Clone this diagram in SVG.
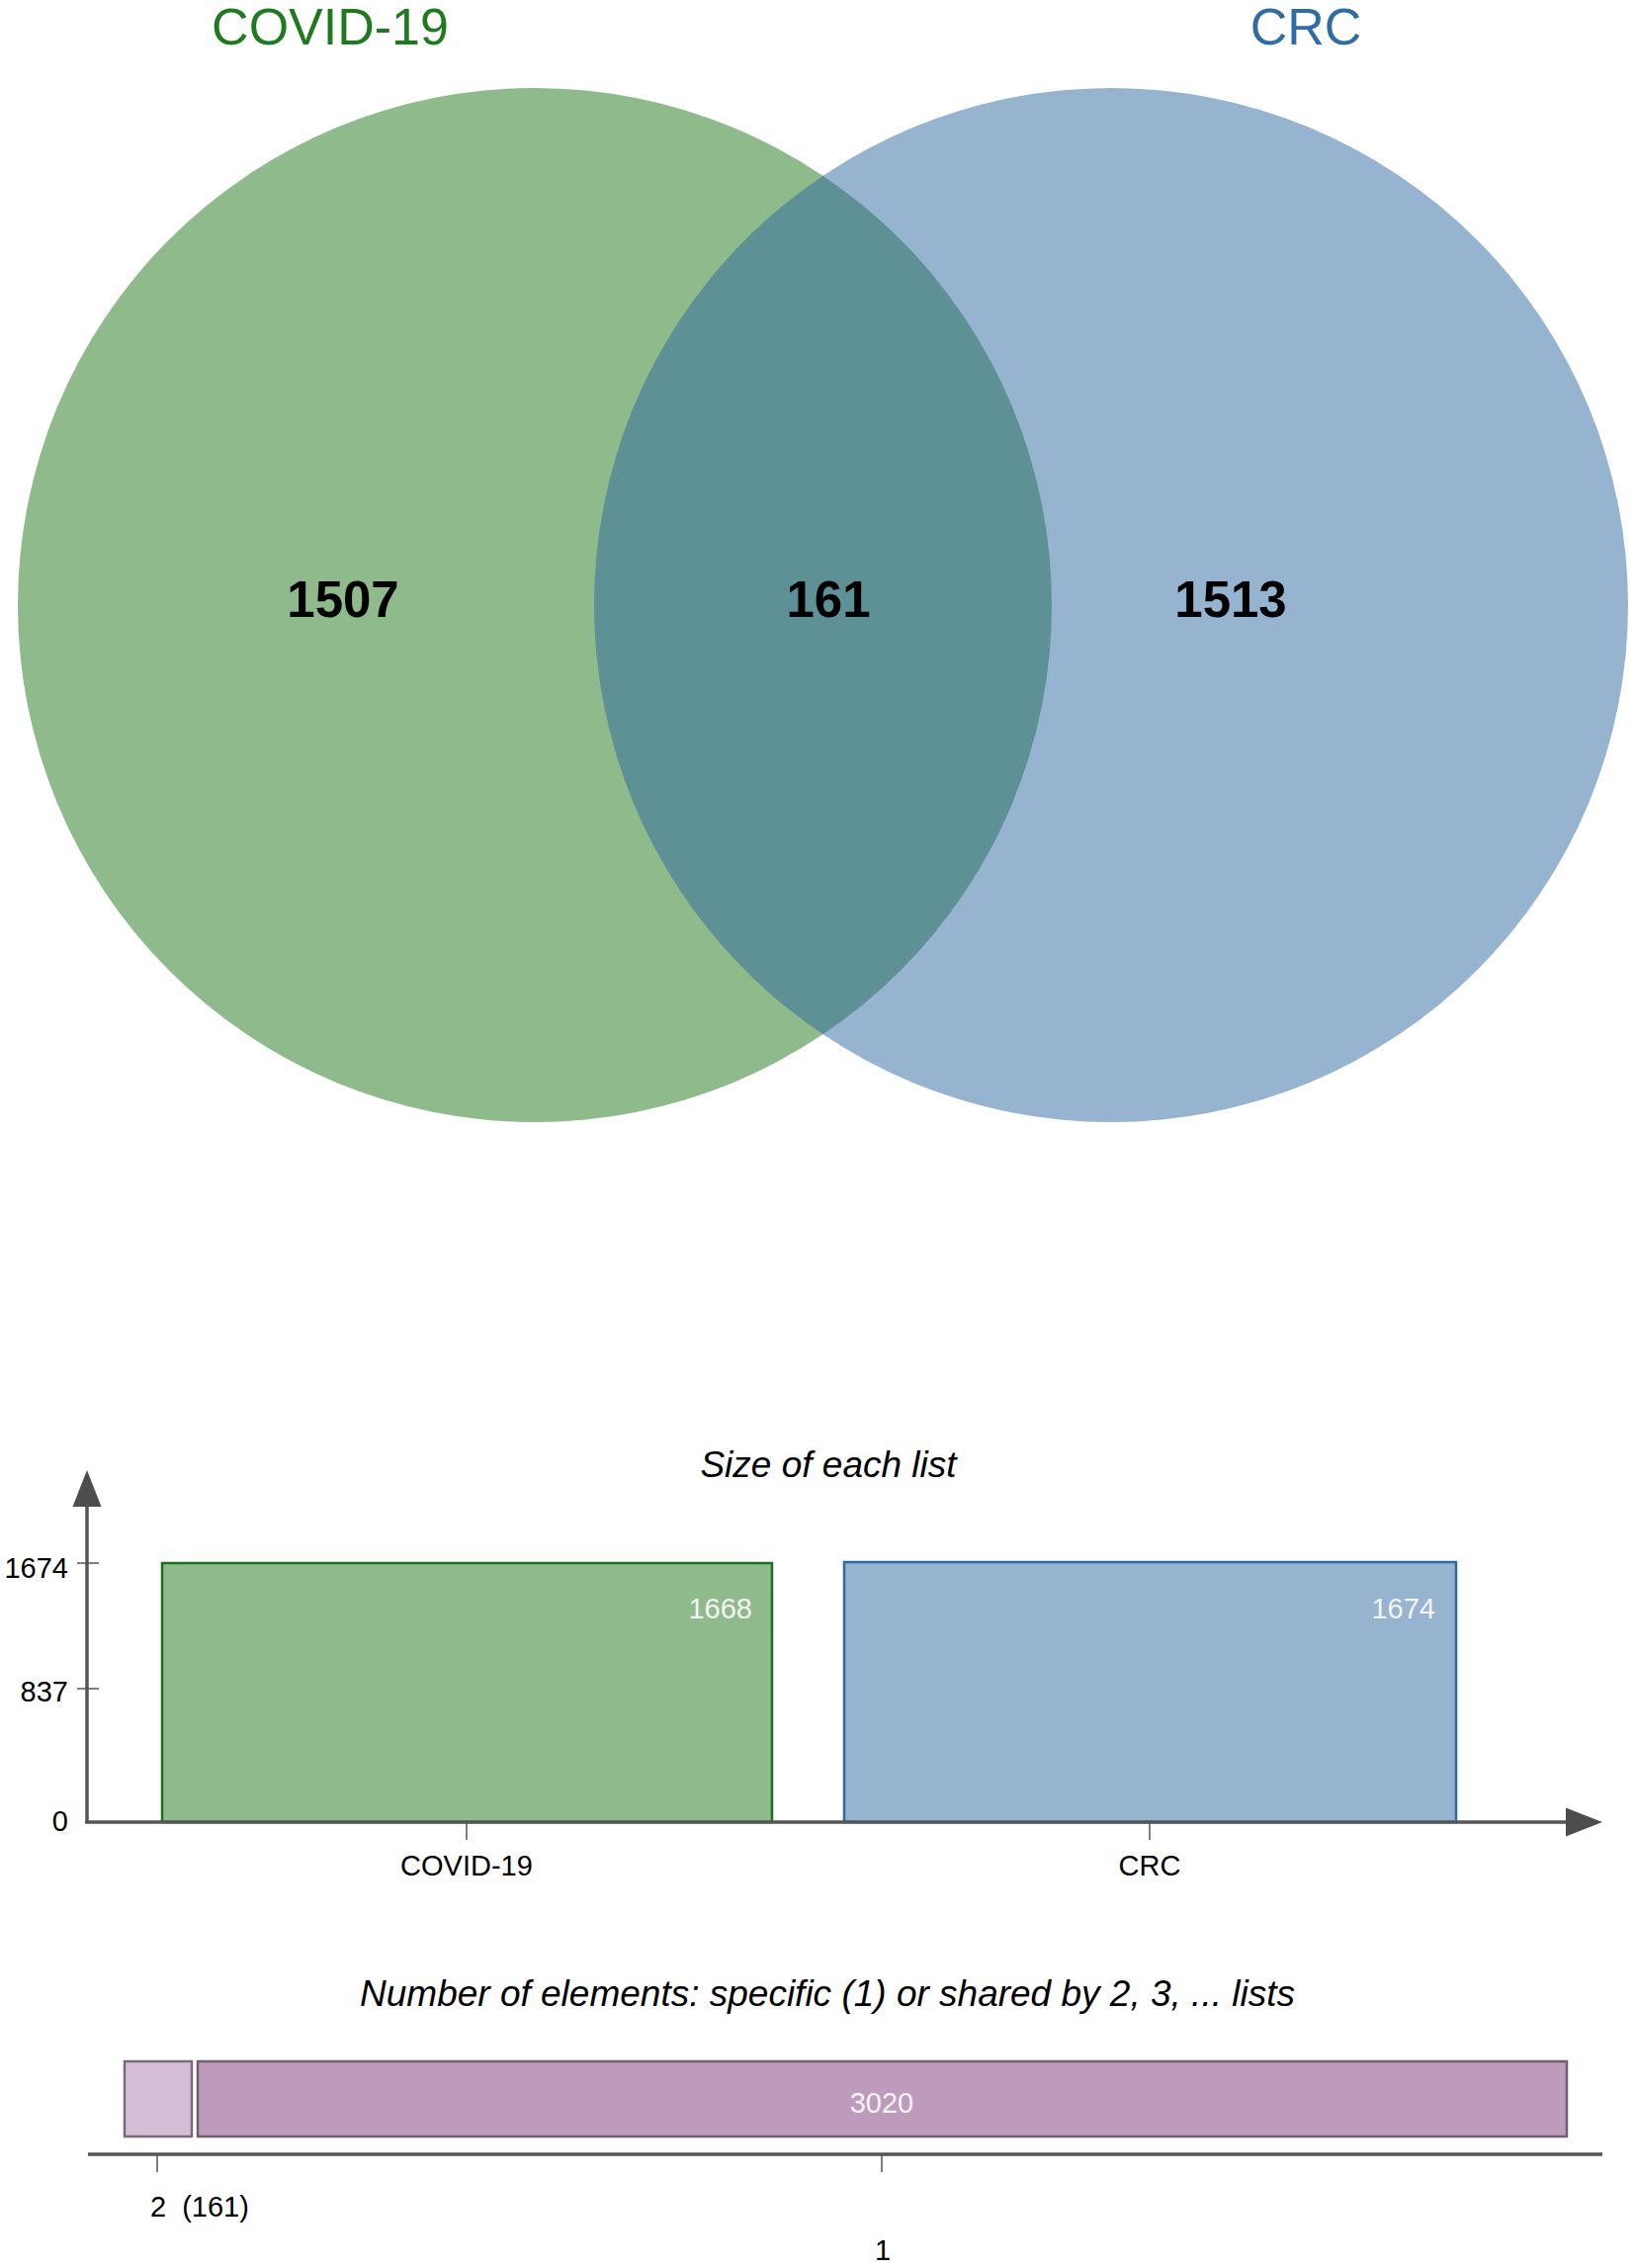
<svg xmlns="http://www.w3.org/2000/svg" width="1654" height="2294" viewBox="0 0 1654 2294">
<style>
text{font-family:"Liberation Sans",Arial,sans-serif}
.ttl{font-size:52px;text-anchor:middle}
.num{font-size:51px;font-weight:bold;text-anchor:middle;fill:#000}
.lab{font-size:29px;fill:#000}
.wlab{font-size:29px;fill:#f4f4f4}
.hd{font-size:37px;font-style:italic;text-anchor:middle;fill:#000}
.axis{stroke:#555;stroke-width:3.5;fill:none}
.tick{stroke:#555;stroke-width:1.5;fill:none}
.arr{fill:#4d4d4d}
</style>
<rect width="1654" height="2294" fill="#fff"/>
<g id="venn">
<g id="set-covid">
<circle cx="541" cy="612" r="523" fill="#8fba8c"/>
<text class="ttl" x="334" y="45" fill="#1f7a1f">COVID-19</text>
</g>
<g id="set-crc">
<circle cx="1124" cy="612" r="523" fill="#2d679f" fill-opacity="0.5"/>
<text class="ttl" x="1321" y="45" fill="#2f6ca3">CRC</text>
</g>
<text class="num" x="347" y="624">1507</text>
<text class="num" x="838" y="624">161</text>
<text class="num" x="1245" y="624">1513</text>
</g>
<g id="size-chart">
<text class="hd" x="838" y="1494">Size of each list</text>
<g id="bar-covid">
<rect x="164" y="1581" width="617" height="262" fill="#8fba8c" stroke="#1e6f1e" stroke-width="2.5"/>
<text class="wlab" x="761" y="1637" text-anchor="end">1668</text>
</g>
<g id="bar-crc">
<rect x="854" y="1580" width="619" height="263" fill="#96b3cf" stroke="#2e6aa3" stroke-width="2.5"/>
<text class="wlab" x="1452" y="1637" text-anchor="end">1674</text>
</g>
<text class="lab" x="69" y="1596" text-anchor="end">1674</text>
<text class="lab" x="69" y="1721" text-anchor="end">837</text>
<text class="lab" x="69" y="1852" text-anchor="end">0</text>
<text class="lab" x="472" y="1897" text-anchor="middle">COVID-19</text>
<text class="lab" x="1163" y="1897" text-anchor="middle">CRC</text>
</g>
<g id="count-chart">
<text class="hd" x="837" y="2029">Number of elements: specific (1) or shared by 2, 3, ... lists</text>
<g id="bar-shared">
<rect x="126" y="2085" width="68" height="76" fill="#d6bfd6" stroke="#7a6a7a" stroke-width="2.5"/>
</g>
<g id="bar-specific">
<rect x="200" y="2085" width="1385" height="76" fill="#be9bbd" stroke="#6e5e6e" stroke-width="2.5"/>
<text class="wlab" x="892" y="2137" text-anchor="middle">3020</text>
</g>
<text class="lab" x="152" y="2242">2 <tspan dx="8">(161)</tspan></text>
<text class="lab" x="893" y="2286" text-anchor="middle">1</text>
</g>
<g id="connectors">
<line class="axis" x1="88" y1="1843" x2="88" y2="1522"/>
<polygon class="arr" points="88,1487 73.5,1524 102.5,1524"/>
<line class="axis" x1="86" y1="1843" x2="1586" y2="1843"/>
<polygon class="arr" points="1621,1843 1584,1828.5 1584,1857.5"/>
<line class="tick" x1="78" y1="1581" x2="100" y2="1581"/>
<line class="tick" x1="78" y1="1708" x2="100" y2="1708"/>
<line class="tick" x1="472" y1="1843" x2="472" y2="1861"/>
<line class="tick" x1="1163" y1="1843" x2="1163" y2="1861"/>
<line class="axis" x1="89" y1="2179" x2="1621" y2="2179"/>
<line class="tick" x1="159" y1="2179" x2="159" y2="2197"/>
<line class="tick" x1="892" y1="2179" x2="892" y2="2197"/>
</g>
</svg>
